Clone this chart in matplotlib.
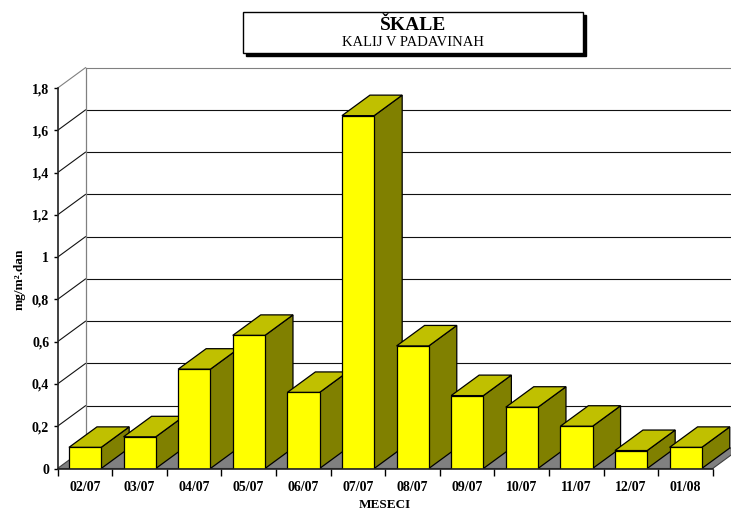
import matplotlib
matplotlib.use("Agg")
import matplotlib.pyplot as plt
from matplotlib.patches import Polygon, Rectangle
from matplotlib.lines import Line2D

# Monthly potassium deposition in precipitation
months = ["02/07", "03/07", "04/07", "05/07", "06/07", "07/07",
          "08/07", "09/07", "10/07", "11/07", "12/07", "01/08"]
values = [0.10, 0.15, 0.47, 0.63, 0.36, 1.67, 0.58, 0.345, 0.29, 0.20, 0.085, 0.10]
y_ticks = [0, 0.2, 0.4, 0.6, 0.8, 1.0, 1.2, 1.4, 1.6, 1.8]
y_tick_labels = ["0", "0,2", "0,4", "0,6", "0,8", "1", "1,2", "1,4", "1,6", "1,8"]
title_main = "ŠKALE"
title_sub = "KALIJ V PADAVINAH"
x_title = "MESECI"
y_title = "mg/m².dan"

plt.rcParams['font.family'] = ['Liberation Serif', 'DejaVu Serif']

W, H = 731, 512
fig = plt.figure(figsize=(W / 100, H / 100), dpi=100)
fig.patch.set_facecolor("white")

# plot frame (pixels): origin of the front axis and scale
x0_px, y0_px = 57.5, 468.5
px_per_cat = 54.6
px_per_val = 211.3
top_px = 55
ax = fig.add_axes([x0_px / W, (H - y0_px) / H, (W - x0_px) / W, (y0_px - top_px) / H])
xmax = (W - x0_px) / px_per_cat
ymax = (y0_px - top_px) / px_per_val
ax.set_xlim(0, xmax)
ax.set_ylim(0, ymax)
ax.set_facecolor("none")

# 3D depth offset
DX = 28 / px_per_cat
DY = 20.5 / px_per_val
n = len(months)
ytop = y_ticks[-1]

# floor
ax.add_patch(Polygon([(0, 0), (n, 0), (n + DX, DY), (DX, DY)], closed=True,
                     facecolor="#808080", edgecolor="#404040", lw=0.8, zorder=1))

# walls: back-wall gridlines and side-wall diagonals
for v in y_ticks[1:]:
    col = "#808080" if v == ytop else "#111111"
    ax.add_line(Line2D([DX, xmax], [v + DY, v + DY], color=col, lw=0.8, zorder=1.5))
    ax.add_line(Line2D([0, DX], [v, v + DY], color=col, lw=0.8, zorder=1.5))
ax.add_line(Line2D([DX, DX], [DY, ytop + DY], color="#808080", lw=0.9, zorder=1.5))

# bars with front, top and side faces
bl, br = 0.21, 0.80
for i, v in enumerate(values):
    xl, xr = i + bl, i + br
    z = 3 + i
    ax.add_patch(Polygon([(xr, 0), (xr + DX, DY), (xr + DX, v + DY), (xr, v)], closed=True,
                         facecolor="#808000", edgecolor="black", lw=0.9, zorder=z))
    ax.add_patch(Polygon([(xl, v), (xr, v), (xr + DX, v + DY), (xl + DX, v + DY)], closed=True,
                         facecolor="#C0C000", edgecolor="black", lw=0.9, zorder=z))
    ax.add_patch(Rectangle((xl, 0), br - bl, v, facecolor="#FFFF00",
                           edgecolor="black", lw=0.9, zorder=z + 0.5))

# axes lines and ticks
for s in ("top", "right"):
    ax.spines[s].set_visible(False)
ax.spines["left"].set_bounds(0, ytop)
ax.spines["bottom"].set_bounds(0, n)
for s in ("left", "bottom"):
    ax.spines[s].set_color("#202020")
    ax.spines[s].set_linewidth(1.2)
    ax.spines[s].set_zorder(30)

ax.set_yticks(y_ticks)
ax.set_yticklabels(y_tick_labels, fontsize=10, fontweight="bold")
ax.tick_params(axis="y", direction="out", length=3, width=1, pad=3)

ax.set_xticks(range(n + 1))
ax.set_xticklabels([])
ax.tick_params(axis="x", which="major", direction="out", length=5, width=1)
ax.set_xticks([i + 0.5 for i in range(n)], minor=True)
ax.set_xticklabels(months, minor=True, fontsize=10, fontweight="bold")
ax.tick_params(axis="x", which="minor", length=0, pad=9)

fig.text(385 / W, 1 - 505 / H, x_title, ha="center", va="center",
         fontsize=9.5, fontweight="bold")
fig.text(20 / W, 1 - 279 / H, y_title, ha="center", va="center",
         rotation=90, fontsize=9.5, fontweight="bold")

# title box with drop shadow
bx0, bx1, by0, by1 = 243, 583, 12, 53
fig.add_artist(Rectangle(((bx0 + 3) / W, 1 - (by1 + 3) / H), (bx1 - bx0) / W, (by1 - by0) / H,
                         transform=fig.transFigure, facecolor="black", edgecolor="black", lw=1))
fig.add_artist(Rectangle((bx0 / W, 1 - by1 / H), (bx1 - bx0) / W, (by1 - by0) / H,
                         transform=fig.transFigure, facecolor="white", edgecolor="black", lw=1))
cx = (bx0 + bx1) / 2
fig.text(cx / W, 1 - 25 / H, title_main, ha="center", va="center",
         fontsize=14, fontweight="bold")
fig.text(cx / W, 1 - 43 / H, title_sub, ha="center", va="center", fontsize=10.5)

fig.savefig("out.png", dpi=100)
